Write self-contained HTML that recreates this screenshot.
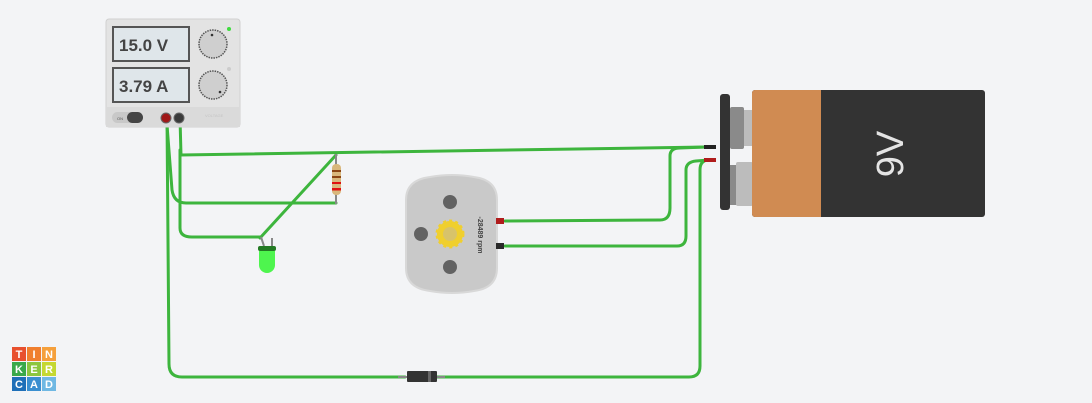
<!DOCTYPE html>
<html><head><meta charset="utf-8"><style>
html,body{margin:0;padding:0;background:#f3f4f6;width:1092px;height:403px;overflow:hidden}
svg{display:block}
text{font-family:"Liberation Sans",sans-serif}
</style></head><body>
<svg width="1092" height="403" viewBox="0 0 1092 403">
<rect width="1092" height="403" fill="#f3f4f6"/>
<!-- wires -->
<g fill="none" stroke="#3db53d" stroke-width="3" stroke-linecap="round">
<path d="M167,118 L169,364 Q169,377 182,377 L405,377 M437,377 L689,377 Q700,377 700,366 L700,170 Q700,160 709,160"/>
<path d="M180,118 L181,155 L706,147"/>
<path d="M167,125 L172,190 Q174,203 186,203 L336,203"/>
<path d="M180,150 L180,228 Q180,237 192,237 L260,237"/>
<path d="M260,238 L336,155"/>
<path d="M505,221 L660,220 Q670,220 670,208 L670,156 Q670,148 680,148 L706,147"/>
<path d="M505,246 L677,246 Q686,246 686,236 L686,170 Q686,162 696,161 L709,160"/>
</g>
<!-- power supply -->
<g>
<rect x="106" y="19" width="134" height="108" rx="3" fill="#e3e3e3" stroke="#d0d0d0"/>
<rect x="106" y="107" width="134" height="20" fill="#dadada"/>
<rect x="112" y="26" width="78" height="36" fill="#555"/><rect x="114" y="28" width="74" height="32" fill="#dfe6ea"/>
<text x="119" y="51" font-size="17" font-weight="bold" fill="#444">15.0 V</text>
<rect x="112" y="67" width="78" height="36" fill="#555"/><rect x="114" y="69" width="74" height="32" fill="#dfe6ea"/>
<text x="119" y="92" font-size="17" font-weight="bold" fill="#444">3.79 A</text>
<circle cx="213" cy="44" r="14" fill="#cfcfcf" stroke="#555" stroke-width="1.5" stroke-dasharray="1.5 1"/>
<circle cx="212" cy="35" r="1.3" fill="#333"/>
<circle cx="213" cy="85" r="14" fill="#cfcfcf" stroke="#555" stroke-width="1.5" stroke-dasharray="1.5 1"/>
<circle cx="220" cy="92" r="1.3" fill="#333"/>
<circle cx="229" cy="29" r="2" fill="#3fdc3f"/><circle cx="229" cy="69" r="2" fill="#ccc"/>
<rect x="112" y="112" width="31" height="11" rx="5.5" fill="#c8c8c8"/>
<rect x="127" y="112" width="16" height="11" rx="5.5" fill="#454545"/>
<text x="117" y="120" font-size="4" fill="#555">ON</text>
<circle cx="166" cy="118" r="5" fill="#a01818" stroke="#666"/>
<circle cx="179" cy="118" r="5" fill="#3a3a3a" stroke="#666"/>
<text x="205" y="117" font-size="4" fill="#c4c4c4">VOLTAGE</text>
</g>
<!-- resistor -->
<g>
<line x1="336" y1="154" x2="336" y2="204" stroke="#888" stroke-width="2"/>
<rect x="332" y="164" width="9" height="31" rx="4" fill="#d9b77c"/>
<rect x="332" y="170" width="9" height="2" fill="#8b4513"/><rect x="332" y="176" width="9" height="2" fill="#8b4513"/>
<rect x="332" y="182" width="9" height="2" fill="#e01010"/><rect x="332" y="188" width="9" height="2.5" fill="#e01010"/>
</g>
<!-- led -->
<g>
<line x1="261" y1="237" x2="264" y2="246" stroke="#888" stroke-width="2"/><line x1="272" y1="238" x2="272" y2="246" stroke="#888" stroke-width="2"/>
<rect x="258" y="246" width="18" height="5" rx="2" fill="#237a23"/>
<path d="M259,251 L275,251 L275,265 A8,8 0 0 1 259,265 Z" fill="#4ef54e"/>
</g>
<!-- motor -->
<g>
<path d="M406,200 Q406,180 430,177 Q452,173 474,177 Q497,180 497,200 L497,268 Q497,288 474,291 Q452,295 430,291 Q406,288 406,268 Z" fill="#c9c9c9" stroke="#d8d8d8" stroke-width="2"/>
<circle cx="450" cy="202" r="7" fill="#626262"/><circle cx="421" cy="234" r="7" fill="#626262"/><circle cx="450" cy="267" r="7" fill="#626262"/>
<circle cx="450" cy="234" r="13" fill="#f0cf2e" stroke="#f0cf2e" stroke-width="3" stroke-dasharray="3 3"/>
<circle cx="450" cy="234" r="7" fill="#d8c36a"/>
<text transform="translate(478,235) rotate(90)" font-size="7" font-weight="bold" fill="#444" text-anchor="middle">-28489 rpm</text>
<rect x="496" y="218" width="8" height="6" fill="#b01c1c"/><rect x="496" y="243" width="8" height="6" fill="#2a2a2a"/>
</g>
<!-- diode -->
<g>
<line x1="398" y1="377" x2="445" y2="377" stroke="#888" stroke-width="2"/>
<rect x="407" y="371" width="30" height="11" rx="1" fill="#333"/>
<rect x="428" y="371" width="3" height="11" fill="#666"/>
</g>
<!-- battery -->
<g>
<rect x="730" y="107" width="14" height="42" rx="2" fill="#8a8a8a"/><rect x="744" y="110" width="9" height="36" fill="#bcbcbc"/>
<rect x="730" y="165" width="7" height="40" fill="#8a8a8a"/><rect x="736" y="162" width="17" height="44" rx="2" fill="#bcbcbc"/>
<rect x="720" y="94" width="10" height="116" rx="3" fill="#333"/>
<rect x="752" y="90" width="233" height="127" rx="3" fill="#333"/>
<rect x="752" y="90" width="69" height="127" rx="3" fill="#d08b52"/><rect x="815" y="90" width="6" height="127" fill="#d08b52"/>
<text transform="translate(903,154) rotate(-90)" font-size="38" fill="#e4e4e4" text-anchor="middle">9V</text>
<path d="M704,147 L716,147" stroke="#222" stroke-width="4"/><path d="M704,160 L716,160" stroke="#b01c1c" stroke-width="4"/>
</g>
<!-- logo -->
<g font-size="11" font-weight="bold" fill="#fff" text-anchor="middle">
<rect x="12" y="347" width="14" height="14" fill="#e8502e"/><rect x="27" y="347" width="14" height="14" fill="#f07f2e"/><rect x="42" y="347" width="14" height="14" fill="#f5a03c"/>
<rect x="12" y="362" width="14" height="14" fill="#3aa94a"/><rect x="27" y="362" width="14" height="14" fill="#8cc63f"/><rect x="42" y="362" width="14" height="14" fill="#c5d831"/>
<rect x="12" y="377" width="14" height="14" fill="#1e6fb8"/><rect x="27" y="377" width="14" height="14" fill="#3a8fd0"/><rect x="42" y="377" width="14" height="14" fill="#6fb8e3"/>
<text x="19" y="358">T</text><text x="34" y="358">I</text><text x="49" y="358">N</text>
<text x="19" y="373">K</text><text x="34" y="373">E</text><text x="49" y="373">R</text>
<text x="19" y="388">C</text><text x="34" y="388">A</text><text x="49" y="388">D</text>
</g>
</svg>
</body></html>
